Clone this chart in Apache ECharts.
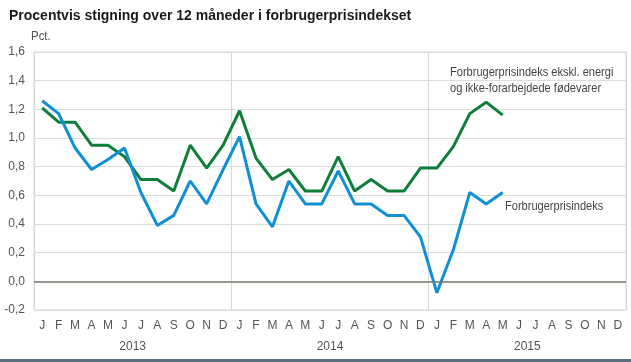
<!DOCTYPE html>
<html><head><meta charset="utf-8">
<script src="https://cdn.jsdelivr.net/npm/echarts@6/dist/echarts.min.js"></script>
<style>html,body{margin:0;padding:0;background:#fff}#c{width:631px;height:362px}</style>
</head><body><div id="c"></div>
<script>
const months = ['J','F','M','A','M','J','J','A','S','O','N','D','J','F','M','A','M','J','J','A','S','O','N','D','J','F','M','A','M','J','J','A','S','O','N','D'];
const years = ['2013','2014','2015'];
const cpi = [1.26,1.17,0.93,0.78,0.85,0.93,0.62,0.39,0.46,0.70,0.54,0.78,
             1.01,0.54,0.38,0.70,0.54,0.54,0.77,0.54,0.54,0.46,0.46,0.31,
             -0.08,0.22,0.62,0.54,0.62];
const core = [1.21,1.11,1.11,0.95,0.95,0.87,0.71,0.71,0.63,0.95,0.79,0.95,
              1.19,0.86,0.71,0.78,0.63,0.63,0.87,0.63,0.71,0.63,0.63,0.79,
              0.79,0.94,1.17,1.25,1.16];
const yTicks = [-0.2,0,0.2,0.4,0.6,0.8,1.0,1.2,1.4,1.6];
const title = 'Procentvis stigning over 12 måneder i forbrugerprisindekset';
const unit = 'Pct.';
const nameCpi = 'Forbrugerprisindeks';
const nameCore = 'Forbrugerprisindeks ekskl. energi\nog ikke-forarbejdede fødevarer';

const font = "'Liberation Sans',Arial,sans-serif";
const chart = echarts.init(document.getElementById('c'));
chart.setOption({
  animation:false,
  backgroundColor:'#fff',
  title:{text:title,left:4,top:4,textStyle:{fontFamily:font,fontWeight:'bold',fontSize:14,color:'#1a1a1a'}},
  grid:{left:34,right:5,top:52,bottom:52,show:true,borderColor:'#d8d8d8',borderWidth:1},
  xAxis:[
    {type:'category',data:months,boundaryGap:true,
     axisLine:{show:false,onZero:false},axisTick:{show:false},splitLine:{show:false},
     axisLabel:{interval:0,color:'#555',fontFamily:font,fontSize:12,margin:10}},
    {type:'category',data:years,boundaryGap:true,position:'bottom',offset:21,
     axisLine:{show:false,onZero:false},axisTick:{show:false},
     splitLine:{show:true,lineStyle:{color:'#d8d8d8',width:1}},
     axisLabel:{interval:0,color:'#555',fontFamily:font,fontSize:12,margin:10}}
  ],
  yAxis:{type:'value',min:-0.2,max:1.6,interval:0.2,
    axisLine:{show:false},axisTick:{show:false},
    splitLine:{lineStyle:{color:'#dcdcdc',width:1}},
    axisLabel:{color:'#555',fontFamily:font,fontSize:12,margin:9,
      formatter:v=>v.toFixed(1).replace('.',',')}},
  series:[
    {type:'line',name:'core',data:core,symbol:'none',lineStyle:{color:'#0f7e3a',width:3},
     markLine:{silent:true,symbol:'none',label:{show:false},lineStyle:{color:'#7a7a70',width:1.5,type:'solid'},data:[{yAxis:0}]}},
    {type:'line',name:'cpi',data:cpi,symbol:'none',lineStyle:{color:'#0f8fd6',width:3}}
  ],
  graphic:[
    {type:'text',x:31,y:30,scaleX:0.88,style:{text:unit,fill:'#555',font:"13px "+font}},
    {type:'text',x:450,y:64,scaleX:0.85,style:{text:nameCore,fill:'#444',font:"13px "+font,lineHeight:16}},
    {type:'text',x:505,y:200,scaleX:0.85,style:{text:nameCpi,fill:'#444',font:"13px "+font}},
    {type:'rect',shape:{x:0,y:359,width:631,height:3},style:{fill:'#5d6f7a'}}
  ]
});
</script></body></html>
